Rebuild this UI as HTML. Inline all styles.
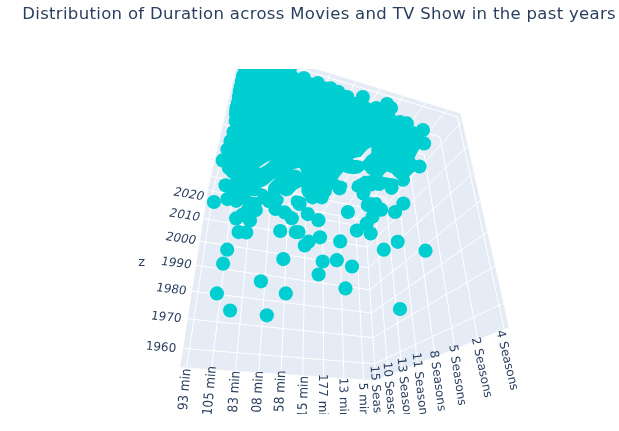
<!DOCTYPE html>
<html><head><meta charset="utf-8"><style>
html,body{margin:0;padding:0;background:#fff;}
svg{display:block;}
</style></head><body>
<svg width="619" height="431" viewBox="0 0 619 431">
<defs><clipPath id="sc"><rect x="0" y="69" width="619" height="362"/></clipPath><clipPath id="lc"><rect x="0" y="69" width="619" height="345"/></clipPath></defs>
<g clip-path="url(#sc)">
<g fill="#E5ECF6" stroke="#E5ECF6" stroke-width="0.6">
<polygon points="180.44,366.91 375.63,380.00 365.46,221.02 208.18,190.16"/>
<polygon points="375.63,380.00 508.57,327.02 460.28,113.66 365.46,221.02"/>
<polygon points="208.18,190.16 365.46,221.02 460.28,113.66 241.25,46.30"/>
</g>
<g stroke="#fff" stroke-width="1" stroke-linecap="butt">
<line x1="186.69" y1="367.33" x2="213.08" y2="191.12"/>
<line x1="211.54" y1="368.99" x2="232.65" y2="194.96"/>
<line x1="235.52" y1="370.60" x2="251.67" y2="198.69"/>
<line x1="258.68" y1="372.15" x2="270.16" y2="202.32"/>
<line x1="281.07" y1="373.66" x2="288.15" y2="205.85"/>
<line x1="302.71" y1="375.11" x2="305.66" y2="209.29"/>
<line x1="323.65" y1="376.51" x2="322.70" y2="212.63"/>
<line x1="343.92" y1="377.87" x2="339.30" y2="215.88"/>
<line x1="363.56" y1="379.19" x2="355.47" y2="219.06"/>
<line x1="183.34" y1="348.43" x2="374.60" y2="363.79"/>
<line x1="187.98" y1="318.85" x2="372.92" y2="337.65"/>
<line x1="192.32" y1="291.24" x2="371.35" y2="313.03"/>
<line x1="196.37" y1="265.40" x2="369.86" y2="289.79"/>
<line x1="200.18" y1="241.17" x2="368.46" y2="267.82"/>
<line x1="203.75" y1="218.41" x2="367.13" y2="247.03"/>
<line x1="207.11" y1="196.97" x2="365.86" y2="227.31"/>
<line x1="375.63" y1="380.00" x2="365.46" y2="221.02"/>
<line x1="388.09" y1="375.03" x2="375.16" y2="210.04"/>
<line x1="401.96" y1="369.50" x2="385.74" y2="198.05"/>
<line x1="417.50" y1="363.31" x2="397.34" y2="184.92"/>
<line x1="435.02" y1="356.33" x2="410.10" y2="170.47"/>
<line x1="454.93" y1="348.40" x2="424.21" y2="154.50"/>
<line x1="477.76" y1="339.30" x2="439.90" y2="136.74"/>
<line x1="504.19" y1="328.77" x2="457.44" y2="116.87"/>
<line x1="374.60" y1="363.79" x2="503.20" y2="303.30"/>
<line x1="372.92" y1="337.65" x2="494.77" y2="266.06"/>
<line x1="371.35" y1="313.03" x2="487.08" y2="232.07"/>
<line x1="369.86" y1="289.79" x2="480.03" y2="200.91"/>
<line x1="368.46" y1="267.82" x2="473.55" y2="172.26"/>
<line x1="367.13" y1="247.03" x2="467.56" y2="145.83"/>
<line x1="365.86" y1="227.31" x2="462.02" y2="121.35"/>
<line x1="213.08" y1="191.12" x2="248.45" y2="48.52"/>
<line x1="232.65" y1="194.96" x2="276.97" y2="57.29"/>
<line x1="251.67" y1="198.69" x2="304.31" y2="65.69"/>
<line x1="270.16" y1="202.32" x2="330.53" y2="73.76"/>
<line x1="288.15" y1="205.85" x2="355.70" y2="81.50"/>
<line x1="305.66" y1="209.29" x2="379.89" y2="88.94"/>
<line x1="322.70" y1="212.63" x2="403.15" y2="96.09"/>
<line x1="339.30" y1="215.88" x2="425.53" y2="102.97"/>
<line x1="355.47" y1="219.06" x2="447.08" y2="109.60"/>
<line x1="208.18" y1="190.16" x2="365.46" y2="221.02"/>
<line x1="211.40" y1="176.18" x2="375.16" y2="210.04"/>
<line x1="214.95" y1="160.73" x2="385.74" y2="198.05"/>
<line x1="218.89" y1="143.59" x2="397.34" y2="184.92"/>
<line x1="223.29" y1="124.45" x2="410.10" y2="170.47"/>
<line x1="228.23" y1="102.95" x2="424.21" y2="154.50"/>
<line x1="233.82" y1="78.62" x2="439.90" y2="136.74"/>
<line x1="240.20" y1="50.85" x2="457.44" y2="116.87"/>
</g>
<mask id="hm" maskUnits="userSpaceOnUse" x="0" y="0" width="619" height="431"><rect width="619" height="431" fill="#fff"/><polygon fill="#000" points="370.0,194.5 373.0,193.2 376.0,192.6 379.5,192.4 383.8,191.5 383.0,195.0 380.0,196.5 376.0,197.3 372.5,197.5 369.5,196.5"/><polygon fill="#000" points="353.0,158.4 357.0,157.5 360.9,156.8 364.0,153.0 367.1,149.5 371.3,146.9 371.3,153.2 367.1,156.3 363.0,161.5 357.7,160.0 353.6,160.0"/><polygon fill="#000" points="259.0,167.3 263.0,164.5 267.0,162.0 270.5,160.2 268.0,163.0 264.0,166.0 260.0,168.0"/><polygon fill="#000" points="292.5,169.3 296.5,168.5 299.5,167.8 302.0,172.8 299.0,170.5 296.0,169.8"/><polygon fill="#000" points="275.7,178.5 272.0,181.5 269.0,185.0 268.0,188.0 268.2,191.8 265.5,189.5 260.2,187.8 264.0,186.5 268.5,183.5 272.5,180.0"/><polygon fill="#000" points="279.1,193.0 282.0,195.0 285.0,196.3 289.8,196.3 292.5,193.5 294.2,191.4 297.0,189.0 301.6,186.7 301.3,191.4 303.2,196.1 306.3,198.5 302.5,197.0 300.0,195.9 296.8,195.4 294.5,195.4 292.3,196.8 291.0,199.0 290.6,201.7 291.0,204.5 291.8,206.8 293.2,208.5 294.8,210.0 297.7,212.5 295.3,212.5 292.1,209.8 289.5,207.5 288.2,205.6 287.3,203.5 286.6,201.7 285.3,199.5 284.0,197.8 282.0,196.2"/><polygon fill="#000" points="337.5,179.2 340.0,175.5 343.2,172.1 347.7,173.4 353.8,174.3 360.0,173.0 364.4,169.5 367.1,173.0 370.6,175.2 366.0,176.0 363.5,175.7 360.0,178.3 356.5,180.0 353.0,182.0 351.5,186.0 351.5,196.0 348.0,196.0 347.8,188.0 346.5,183.0 343.0,181.0 340.0,180.5"/><polygon fill="#000" points="382.2,176.2 384.5,173.5 386.8,171.6 391.5,173.0 395.2,177.1 398.9,180.0 394.0,178.6 390.5,178.1 384.0,177.1"/><polygon fill="#000" points="249.0,195.6 253.0,196.9 256.0,197.2 259.2,195.4 255.0,196.2 252.0,195.9"/></mask>
<g fill="#00CED1" mask="url(#hm)">
<polygon points="238.0,69.0 294.0,69.0 298.0,73.0 304.0,78.0 318.0,83.0 331.0,88.0 338.0,92.0 347.0,97.0 363.0,97.0 376.0,108.0 387.0,104.0 391.0,108.0 400.0,122.0 407.0,123.0 423.0,130.0 424.0,143.0 418.0,151.0 414.5,158.0 419.5,166.5 405.4,179.9 391.9,188.3 380.0,188.0 371.0,184.4 357.7,185.5 339.6,188.3 324.8,191.0 315.0,195.6 299.6,203.9 285.4,189.7 269.2,201.3 262.0,195.0 258.0,199.0 251.0,199.0 244.0,198.0 236.3,200.8 226.7,198.6 225.5,185.3 231.0,178.0 230.0,165.0 222.7,160.4 228.0,149.0 233.5,132.0 235.7,121.0 236.0,114.0 236.5,108.0 238.5,101.0 239.0,96.0 240.6,87.0 243.0,76.0"/>
<circle cx="243.0" cy="76.0" r="7.1"/>
<circle cx="240.6" cy="87.0" r="7.1"/>
<circle cx="239.0" cy="96.0" r="7.1"/>
<circle cx="238.5" cy="101.0" r="7.1"/>
<circle cx="236.5" cy="108.0" r="7.1"/>
<circle cx="236.0" cy="114.0" r="7.1"/>
<circle cx="235.7" cy="121.0" r="7.1"/>
<circle cx="233.5" cy="132.0" r="7.1"/>
<circle cx="227.5" cy="149.5" r="7.1"/>
<circle cx="222.7" cy="160.4" r="7.1"/>
<circle cx="303.9" cy="78.1" r="7.1"/>
<circle cx="317.8" cy="83.1" r="7.1"/>
<circle cx="330.6" cy="88.3" r="7.1"/>
<circle cx="338.1" cy="91.8" r="7.1"/>
<circle cx="347.4" cy="97.0" r="7.1"/>
<circle cx="362.8" cy="97.0" r="7.1"/>
<circle cx="376.0" cy="108.0" r="7.1"/>
<circle cx="387.0" cy="104.0" r="7.1"/>
<circle cx="391.0" cy="108.0" r="7.1"/>
<circle cx="400.0" cy="122.0" r="7.1"/>
<circle cx="406.8" cy="123.4" r="7.1"/>
<circle cx="422.9" cy="130.0" r="7.1"/>
<circle cx="424.1" cy="143.4" r="7.1"/>
<circle cx="419.5" cy="166.5" r="7.1"/>
<circle cx="403.0" cy="179.7" r="7.1"/>
<circle cx="391.6" cy="187.8" r="7.1"/>
<circle cx="371.0" cy="184.4" r="7.1"/>
<circle cx="358.4" cy="167.4" r="7.1"/>
<circle cx="349.4" cy="166.7" r="7.1"/>
<circle cx="357.7" cy="185.5" r="7.1"/>
<circle cx="339.6" cy="188.3" r="7.1"/>
<circle cx="324.8" cy="191.0" r="7.1"/>
<circle cx="315.0" cy="195.6" r="7.1"/>
<circle cx="299.6" cy="203.9" r="7.1"/>
<circle cx="285.4" cy="189.7" r="7.1"/>
<circle cx="269.2" cy="201.3" r="7.1"/>
<circle cx="258.0" cy="199.0" r="7.1"/>
<circle cx="251.0" cy="199.0" r="7.1"/>
<circle cx="244.0" cy="198.0" r="7.1"/>
<circle cx="227.4" cy="199.1" r="7.1"/>
<circle cx="225.5" cy="185.3" r="7.1"/>
<circle cx="213.9" cy="202.0" r="7.1"/>
<circle cx="236.3" cy="200.8" r="7.1"/>
<circle cx="236.1" cy="218.4" r="7.1"/>
<circle cx="238.6" cy="232.1" r="7.1"/>
<circle cx="246.2" cy="232.4" r="7.1"/>
<circle cx="227.2" cy="249.7" r="7.1"/>
<circle cx="247.9" cy="210.0" r="7.1"/>
<circle cx="255.8" cy="210.1" r="7.1"/>
<circle cx="250.0" cy="220.5" r="7.1"/>
<circle cx="276.7" cy="199.6" r="7.1"/>
<circle cx="275.5" cy="208.9" r="7.1"/>
<circle cx="284.8" cy="212.4" r="7.1"/>
<circle cx="291.8" cy="218.2" r="7.1"/>
<circle cx="280.2" cy="231.0" r="7.1"/>
<circle cx="295.8" cy="232.1" r="7.1"/>
<circle cx="297.5" cy="201.0" r="7.1"/>
<circle cx="312.4" cy="197.3" r="7.1"/>
<circle cx="321.7" cy="197.3" r="7.1"/>
<circle cx="318.4" cy="220.2" r="7.1"/>
<circle cx="307.8" cy="214.1" r="7.1"/>
<circle cx="298.5" cy="232.1" r="7.1"/>
<circle cx="320.0" cy="237.3" r="7.1"/>
<circle cx="308.6" cy="241.7" r="7.1"/>
<circle cx="304.8" cy="245.5" r="7.1"/>
<circle cx="340.2" cy="241.4" r="7.1"/>
<circle cx="347.9" cy="212.0" r="7.1"/>
<circle cx="363.5" cy="193.5" r="7.1"/>
<circle cx="379.0" cy="184.0" r="7.1"/>
<circle cx="367.8" cy="205.1" r="7.1"/>
<circle cx="375.0" cy="203.5" r="7.1"/>
<circle cx="381.2" cy="209.7" r="7.1"/>
<circle cx="372.5" cy="216.7" r="7.1"/>
<circle cx="366.7" cy="223.6" r="7.1"/>
<circle cx="356.8" cy="230.6" r="7.1"/>
<circle cx="370.7" cy="233.5" r="7.1"/>
<circle cx="403.4" cy="203.6" r="7.1"/>
<circle cx="395.1" cy="212.0" r="7.1"/>
<circle cx="371.6" cy="204.1" r="7.1"/>
<circle cx="425.5" cy="250.7" r="7.1"/>
<circle cx="397.7" cy="241.8" r="7.1"/>
<circle cx="383.8" cy="249.7" r="7.1"/>
<circle cx="230.1" cy="310.5" r="7.1"/>
<circle cx="216.9" cy="293.4" r="7.1"/>
<circle cx="223.1" cy="263.7" r="7.1"/>
<circle cx="260.9" cy="281.3" r="7.1"/>
<circle cx="266.8" cy="315.3" r="7.1"/>
<circle cx="285.8" cy="293.4" r="7.1"/>
<circle cx="283.3" cy="259.1" r="7.1"/>
<circle cx="322.7" cy="261.5" r="7.1"/>
<circle cx="336.8" cy="260.2" r="7.1"/>
<circle cx="352.0" cy="266.5" r="7.1"/>
<circle cx="318.6" cy="274.5" r="7.1"/>
<circle cx="345.5" cy="288.4" r="7.1"/>
<circle cx="400.0" cy="309.0" r="7.1"/>
<circle cx="242.3" cy="214.8" r="7.1"/>
<circle cx="233.0" cy="172.0" r="7.1"/>
<circle cx="230.5" cy="141.0" r="7.1"/>
<circle cx="229.0" cy="168.0" r="7.1"/>
<circle cx="311.0" cy="84.5" r="7.1"/>
<circle cx="325.5" cy="88.7" r="7.1"/>
<circle cx="334.5" cy="93.5" r="7.1"/>
<circle cx="343.0" cy="96.5" r="7.1"/>
<circle cx="244.6" cy="67.0" r="7.1"/>
<circle cx="290.0" cy="68.0" r="7.1"/>
<circle cx="241.8" cy="81.5" r="7.1"/>
<circle cx="239.8" cy="91.5" r="7.1"/>
<circle cx="237.6" cy="104.5" r="7.1"/>
<circle cx="236.3" cy="111.0" r="7.1"/>
</g>
</g>
<text x="22.2" y="19.2" font-family="DejaVu Sans, Verdana, sans-serif" font-size="16.5" fill="#2a3f5f" textLength="593.5" lengthAdjust="spacing">Distribution of Duration across Movies and TV Show in the past years</text>
<g font-family="DejaVu Sans, Verdana, sans-serif" font-size="12" fill="#2a3f5f" text-anchor="middle" dominant-baseline="central">
<g clip-path="url(#lc)">
<text transform="translate(184.0 389.3) rotate(-85.0) scale(1 1.12)">93 min</text>
<text transform="translate(209.0 390.5) rotate(-85.0) scale(1 1.12)">105 min</text>
<text transform="translate(233.6 391.5) rotate(-86.0) scale(1 1.12)">83 min</text>
<text transform="translate(257.0 395.5) rotate(-87.0) scale(1 1.12)">108 min</text>
<text transform="translate(279.5 391.1) rotate(-87.0) scale(1 1.12)">58 min</text>
<text transform="translate(302.5 396.9) rotate(-88.0) scale(1 1.10)">15 min</text>
<text transform="translate(322.8 398.6) rotate(90.0)">177 min</text>
<text transform="translate(343.8 398.6) rotate(89.0)">13 min</text>
<text transform="translate(363.6 399.8) rotate(88.6)">5 min</text>
<text transform="translate(377.0 399.8) rotate(86.0)">15 Seasons</text>
<text transform="translate(390.4 396.2) rotate(85.0)">10 Seasons</text>
<text transform="translate(405.0 391.5) rotate(84.0)">13 Seasons</text>
<text transform="translate(420.5 386.8) rotate(83.3)">11 Seasons</text>
<text transform="translate(438.2 380.7) rotate(82.1)">8 Seasons</text>
<text transform="translate(457.9 375.0) rotate(81.2)">5 Seasons</text>
<text transform="translate(482.2 367.4) rotate(77.5)">2 Seasons</text>
<text transform="translate(507.7 360.2) rotate(76.4)">4 Seasons</text>
</g>
<text transform="translate(189.0 194.0) rotate(9.5) skewX(-12.0)">2020</text>
<text transform="translate(184.8 214.8) rotate(8.7) skewX(-11.0)">2010</text>
<text transform="translate(181.0 238.2) rotate(7.9) skewX(-10.0)">2000</text>
<text transform="translate(176.4 262.7) rotate(7.1) skewX(-8.0)">1990</text>
<text transform="translate(171.4 288.9) rotate(6.4) skewX(-6.0)">1980</text>
<text transform="translate(166.3 316.8) rotate(5.6) skewX(-4.0)">1970</text>
<text transform="translate(161.0 346.8) rotate(4.8) skewX(-1.0)">1960</text>
<text font-size="13" transform="translate(141.6 261.2)">z</text>
</g>
</svg>
</body></html>
